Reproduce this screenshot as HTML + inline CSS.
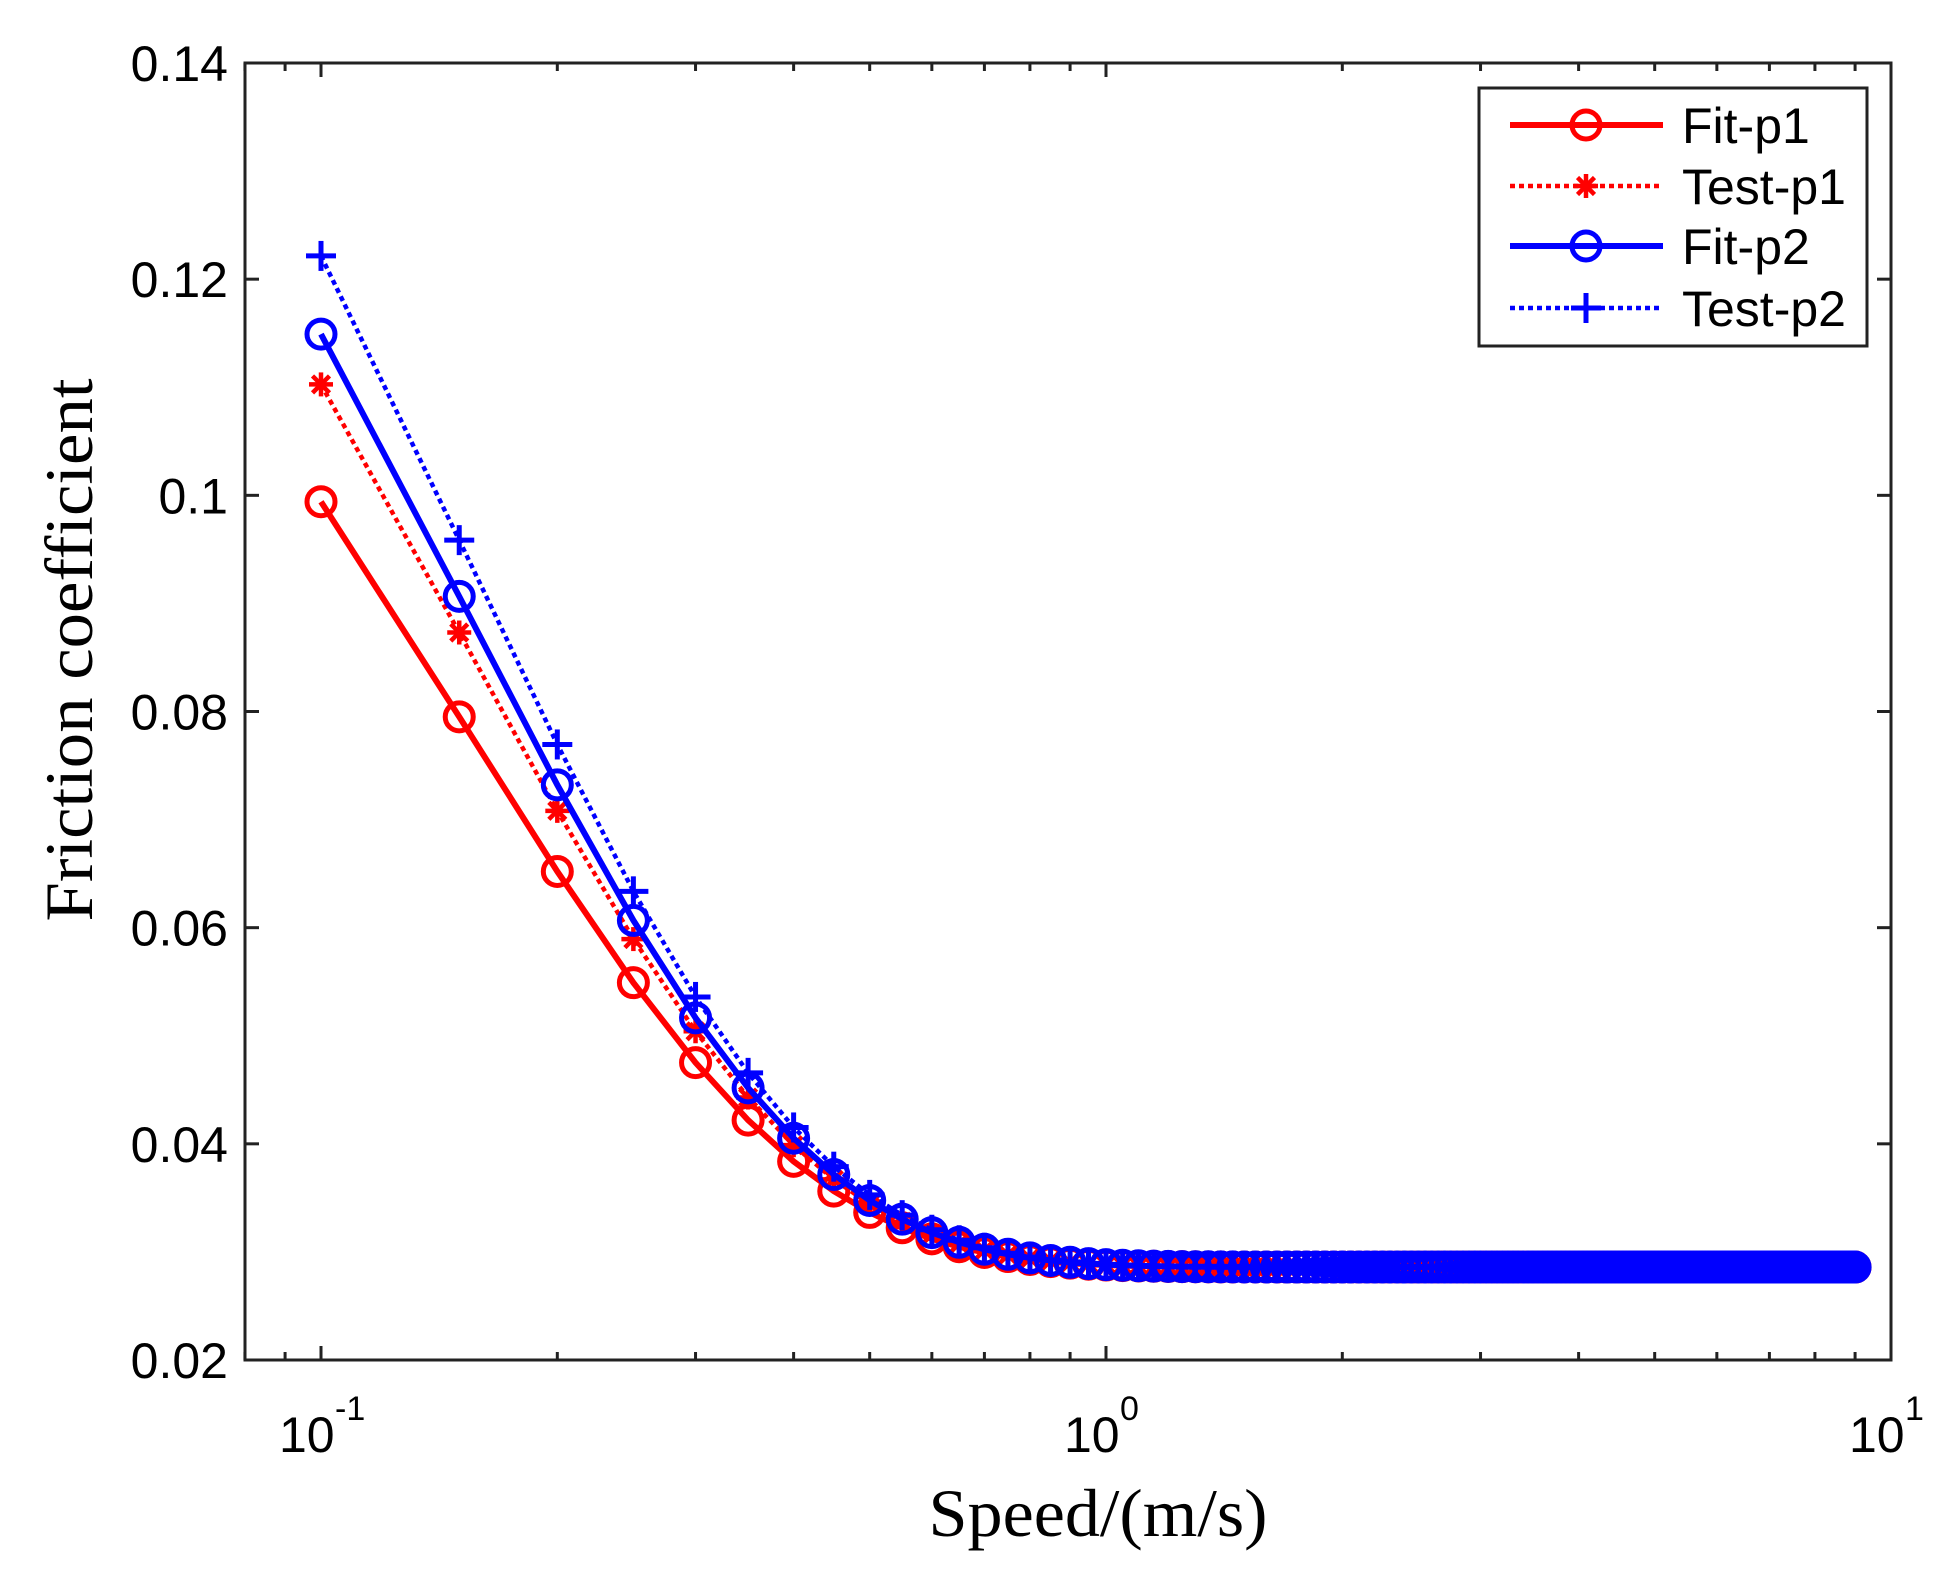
<!DOCTYPE html>
<html><head><meta charset="utf-8"><style>
html,body{margin:0;padding:0;background:#fff;}
svg{display:block;}
</style></head><body>
<svg id="s" width="1951" height="1583" viewBox="0 0 1951 1583" xmlns="http://www.w3.org/2000/svg" font-family="Liberation Sans, sans-serif">
<rect width="1951" height="1583" fill="#fff"/>
<g id="plot"></g>
<g id="axes" stroke="#222" stroke-width="3" fill="none"></g>
<g id="labels" fill="#000" font-size="50"></g>
<text x="1098" y="1536" font-family="Liberation Serif, serif" font-size="68" text-anchor="middle" textLength="339" lengthAdjust="spacingAndGlyphs">Speed/(m/s)</text>
<text transform="translate(92,650) rotate(-90)" font-family="Liberation Serif, serif" font-size="68" text-anchor="middle" textLength="543" lengthAdjust="spacingAndGlyphs">Friction coefficient</text>
<g id="legend"></g>
</svg>
<script>
const L=245,R=1891,T=63,B=1360;
const x0=321,dec=785;
const X=v=>x0+dec*(Math.log10(v)+1);
const Y=f=>B-(f-0.02)/0.12*(B-T);
const NS='http://www.w3.org/2000/svg';
function el(p,tag,attrs,txt){const e=document.createElementNS(NS,tag);for(const k in attrs)e.setAttribute(k,attrs[k]);if(txt!==undefined)e.textContent=txt;p.appendChild(e);return e;}
const plot=document.getElementById('plot'),axes=document.getElementById('axes'),lab=document.getElementById('labels'),leg=document.getElementById('legend');
const vs=[];for(let i=0;i<=178;i++)vs.push(+(0.1+0.05*i).toFixed(3));
const series=[
 {c:'#f00',A:0.137,C:0.0286,type:'o',dash:null},
 {c:'#f00',A:0.158,C:0.0286,type:'*',dash:'5 4'},
 {c:'#00f',A:0.167,C:0.0286,type:'o',dash:null},
 {c:'#00f',A:0.181,C:0.0286,type:'+',dash:'5 4'}
];
function marker(g,type,cx,cy,c){
 if(type==='o')el(g,'circle',{cx,cy,r:14,fill:'none',stroke:c,'stroke-width':5});
 else if(type==='*'){const r=12;for(let a=0;a<4;a++){const t=a*Math.PI/4;el(g,'line',{x1:cx-r*Math.cos(t),y1:cy-r*Math.sin(t),x2:cx+r*Math.cos(t),y2:cy+r*Math.sin(t),stroke:c,'stroke-width':4.5});}}
 else{const r=15;el(g,'line',{x1:cx-r,y1:cy,x2:cx+r,y2:cy,stroke:c,'stroke-width':5});el(g,'line',{x1:cx,y1:cy-r,x2:cx,y2:cy+r,stroke:c,'stroke-width':5});}
}
series.forEach(s=>{
 const pts=vs.map(v=>[X(v),Y(s.C+s.A*Math.exp(-6.6*v))]);
 const a={points:pts.map(p=>p[0].toFixed(1)+','+p[1].toFixed(1)).join(' '),fill:'none',stroke:s.c,'stroke-width':s.dash?4.5:6};
 if(s.dash)a['stroke-dasharray']=s.dash;
 el(plot,'polyline',a);
 pts.forEach(p=>marker(plot,s.type,p[0],p[1],s.c));
});
el(axes,'rect',{x:L,y:T,width:R-L,height:B-T});
for(let i=0;i<=6;i++){const f=0.02+0.02*i,y=Y(f);
 el(axes,'line',{x1:L,y1:y,x2:L+14,y2:y});el(axes,'line',{x1:R,y1:y,x2:R-14,y2:y});
 const t=f.toFixed(2).replace(/0+$/,'').replace(/\.$/,'');
 el(lab,'text',{x:228,y:y+18,'text-anchor':'end'},t);
}
for(let d=-2;d<=0;d++)for(let m=1;m<=9;m++){const v=m*Math.pow(10,d);if(v<0.08||v>10.0001)continue;const x=X(v);const len=m===1?14:8;
 el(axes,'line',{x1:x,y1:B,x2:x,y2:B-len});el(axes,'line',{x1:x,y1:T,x2:x,y2:T+len});}
{const x=X(10);el(axes,'line',{x1:x,y1:B,x2:x,y2:B-14});}
[['-1',0.1],['0',1],['1',10]].forEach(([e,v])=>{const x=X(v);
 el(lab,'text',{x:x-42,y:1452},'10');
 el(lab,'text',{x:x+14,y:1420,'font-size':34},e);
});
el(leg,'rect',{x:1479,y:88,width:388,height:258,fill:'#fff',stroke:'#222','stroke-width':3});
const names=['Fit-p1','Test-p1','Fit-p2','Test-p2'],rows=[125,186,246,308];
series.forEach((s,i)=>{const y=rows[i];
 const a={x1:1510,y1:y,x2:1663,y2:y,stroke:s.c,'stroke-width':s.dash?4.5:6};if(s.dash)a['stroke-dasharray']=s.dash;
 el(leg,'line',a);marker(leg,s.type,1586,y,s.c);
 el(leg,'text',{x:1682,y:y+18,'font-size':50},names[i]);
});
</script>
</body></html>
